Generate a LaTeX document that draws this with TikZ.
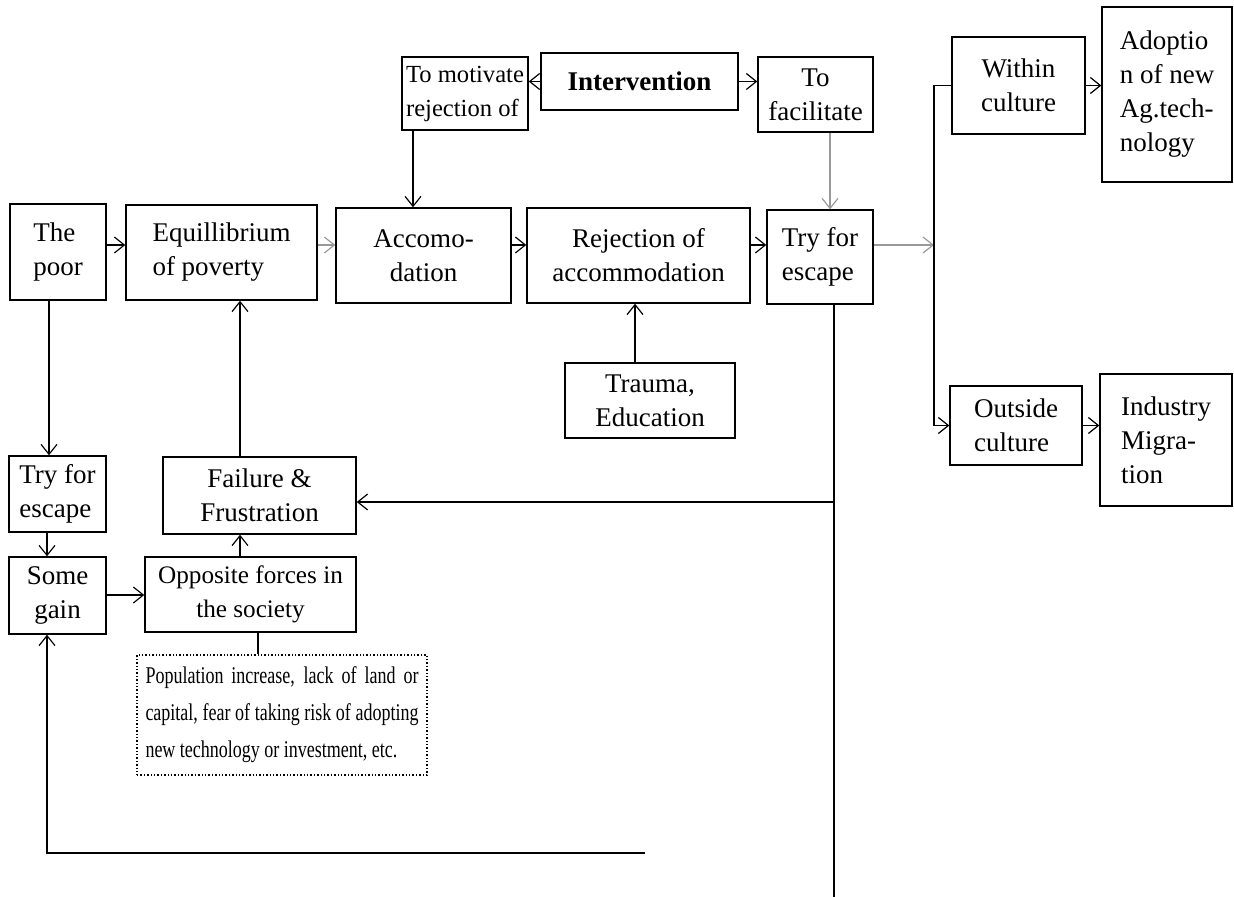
\documentclass[tikz,border=0pt]{standalone}
\usepackage{fontspec}
\setmainfont{Liberation Serif}
\usetikzlibrary{arrows.meta, positioning, calc}

\begin{document}
\begin{tikzpicture}[x=0.5pt, y=-0.5pt, >={Straight Barb[length=5pt,width=8pt]},
		box/.style={draw, line width=0.7pt, inner sep=2pt, align=center, font=\fontsize{13.5}{17}\selectfont},
		note/.style={draw, densely dotted, line width=0.7pt, inner sep=4pt, align=left, font=\fontsize{12}{18.5}\selectfont},
		link/.style={line width=0.6pt},
		faint/.style={line width=0.6pt, draw=black!40}]
		
		% Page frame
		\useasboundingbox (0,0) rectangle (1234,897);
		
		% Define width of the note text (before squeezing)
		\def\notew{182pt}
		\def\squeeze#1{\scalebox{0.75}[1]{#1}}
		
		% Top row (intervention)
		\node[box, minimum width=63pt, minimum height=36.5pt, align=left, font=\fontsize{12.3}{17}\selectfont] (motiv) at (465,93.5) {To motivate\\rejection of};
		\node[box, minimum width=98.5pt, minimum height=28.5pt] (interv) at (639.5,81.5) {\textbf{Intervention}};
		\node[box, minimum width=57.5pt, minimum height=37.5pt] (facil) at (815.5,94.5) {To\\facilitate};
		\node[box, minimum width=66.5pt, minimum height=48.5pt] (within) at (1018.5,85.5) {Within\\culture};
		\node[box, minimum width=65pt, minimum height=87.5pt, align=left] (adopt) at (1167,94.5) {Adoptio\\n of new\\Ag.tech-\\nology};
		
		% Main row
		\node[box, minimum width=48pt, minimum height=48pt, align=left] (poor) at (58,252) {The\\poor};
		\node[box, minimum width=95.5pt, minimum height=47.5pt, align=left] (equil) at (221.5,252.5) {Equillibrium\\of poverty};
		\node[box, minimum width=87.5pt, minimum height=47.5pt] (accom) at (423.5,255.5) {Accomo-\\dation};
		\node[box, minimum width=111.5pt, minimum height=47.5pt] (reject) at (638.5,255.5) {Rejection of\\accommodation};
		\node[box, minimum width=53pt, minimum height=47pt, align=left] (tryesc) at (820,257) {Try for\\escape};
		\node[box, minimum width=85pt, minimum height=37.5pt] (trauma) at (650,400.5) {Trauma,\\Education};
		
		% Outside culture branch
		\node[box, minimum width=66pt, minimum height=39.5pt, align=left] (outside) at (1016,425.5) {Outside\\culture};
		\node[box, minimum width=66pt, minimum height=66pt, align=left] (industry) at (1166,440) {Industry\\Migra-\\tion};
		
		% Left column
		\node[box, minimum width=48.5pt, minimum height=38pt, align=left] (tryleft) at (57.5,494) {Try for\\escape};
		\node[box, minimum width=96.5pt, minimum height=38.5pt] (failure) at (259.5,495.5) {Failure \&\\Frustration};
		\node[box, minimum width=48.5pt, minimum height=38.5pt] (gain) at (57.5,595.5) {Some\\gain};
		\node[box, minimum width=105.5pt, minimum height=37.5pt, font=\fontsize{12.6}{17}\selectfont] (opposite) at (250.5,594.5) {Opposite forces in\\the society};
		\node[note, minimum width=145pt, minimum height=60pt] (causes) at (282,715) {\squeeze{\makebox[\notew][s]{Population increase, lack of land or}}\\
			\squeeze{\makebox[\notew][s]{capital, fear of taking risk of adopting}}\\
			\squeeze{new technology or investment, etc.}};
		
		% Connector coordinates
		\coordinate (rowA) at (0,245);
		\coordinate (jM) at (413,0);
		\coordinate (jF) at (830,0);
		\coordinate (jT) at (635,0);
		\coordinate (jE) at (834,0);
		\coordinate (jR) at (934,0);
		\coordinate (jP) at (49,0);
		\coordinate (jG) at (47,0);
		\coordinate (jO) at (240,0);
		\coordinate (jD) at (258,0);
		\coordinate (yFail) at (0,502);
		\coordinate (yGain) at (0,595);
		\coordinate (lowEnd) at (645,853);
		\coordinate (escEnd) at (834,897);
		
		% Main row arrows
		\draw[->, link] (poor.east |- rowA) -- (equil.west |- rowA);
		\draw[->, faint] (equil.east |- rowA) -- (accom.west |- rowA);
		\draw[->, link] (accom.east |- rowA) -- (reject.west |- rowA);
		\draw[->, link] (reject.east |- rowA) -- (tryesc.west |- rowA);
		\draw[->, faint] (tryesc.east |- rowA) -- (jR |- rowA);
		
		% Intervention arrows
		\draw[->, link] (interv.west) -- (interv.west -| motiv.east);
		\draw[->, link] (interv.east) -- (interv.east -| facil.west);
		\draw[->, link] (motiv.south -| jM) -- (accom.north -| jM);
		\draw[->, faint] (facil.south -| jF) -- (tryesc.north -| jF);
		\draw[->, link] (trauma.north -| jT) -- (reject.south -| jT);
		
		% Within / outside culture
		\draw[->, link] (within.west) -- (within.west -| jR) -- (outside.west -| jR) -- (outside.west);
		\draw[->, link] (within.east) -- (within.east -| adopt.west);
		\draw[->, link] (outside.east) -- (outside.east -| industry.west);
		
		% Loop back from escape
		\draw[link] (tryesc.south -| jE) -- (escEnd);
		\draw[->, link] (jE |- yFail) -- (failure.east |- yFail);
		\draw[->, link] (lowEnd) -| (gain.south -| jG);
		
		% Left column arrows
		\draw[->, link] (poor.south -| jP) -- (tryleft.north -| jP);
		\draw[->, link] (tryleft.south -| jG) -- (gain.north -| jG);
		\draw[->, link] (gain.east |- yGain) -- (opposite.west |- yGain);
		\draw[->, link] (opposite.north -| jO) -- (failure.south -| jO);
		\draw[->, link] (failure.north -| jO) -- (equil.south -| jO);
		\draw[link] (opposite.south -| jD) -- (causes.north -| jD);
		
	\end{tikzpicture}
\end{document}
